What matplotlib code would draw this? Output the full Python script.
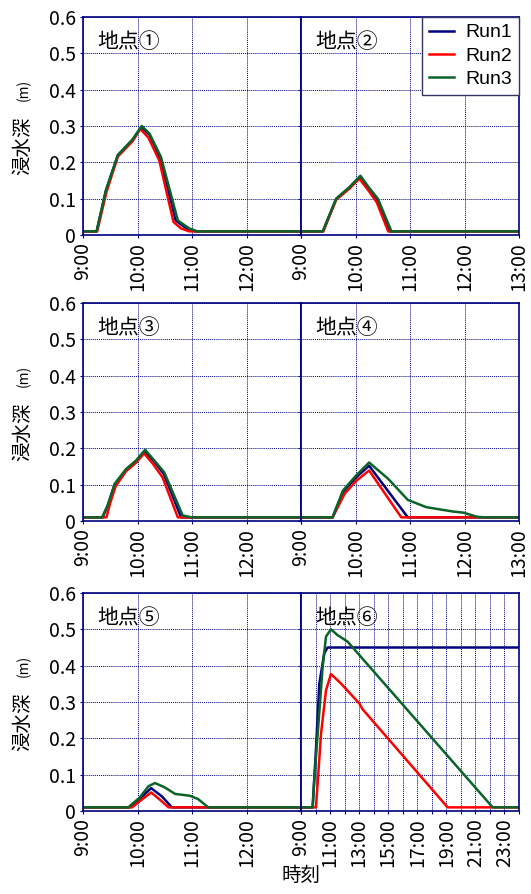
import matplotlib
matplotlib.use("Agg")
import matplotlib.pyplot as plt

plt.rcParams['font.family'] = ['Noto Sans CJK JP', 'DejaVu Sans']

NAVY = '#000080'
RED = '#ff0000'
GREEN = '#0a6428'

runs = ['Run1', 'Run2', 'Run3']
run_colors = [NAVY, RED, GREEN]
sites = ['地点①', '地点②', '地点③', '地点④', '地点⑤', '地点⑥']
depth_ticks = [0, 0.1, 0.2, 0.3, 0.4, 0.5, 0.6]
depth_labels = ['0', '0.1', '0.2', '0.3', '0.4', '0.5', '0.6']

# time in hours, depth in m
# site 1
p1_t_run1 = [9.0, 9.25, 9.42, 9.64, 9.91, 10.07, 10.22, 10.42, 10.70, 10.92, 11.05, 13.0]
p1_d_run1 = [0.01, 0.01, 0.122, 0.22, 0.262, 0.297, 0.276, 0.21, 0.04, 0.016, 0.01, 0.01]
p1_t_run2 = [9.0, 9.26, 9.43, 9.64, 9.91, 10.05, 10.20, 10.40, 10.66, 10.80, 10.95, 13.0]
p1_d_run2 = [0.01, 0.01, 0.118, 0.216, 0.258, 0.292, 0.268, 0.205, 0.036, 0.018, 0.01, 0.01]
p1_t_run3 = [9.0, 9.25, 9.42, 9.64, 9.91, 10.08, 10.22, 10.43, 10.74, 10.95, 11.10, 13.0]
p1_d_run3 = [0.01, 0.01, 0.123, 0.22, 0.263, 0.30, 0.279, 0.215, 0.04, 0.018, 0.01, 0.01]
# site 2
p2_t_run1 = [9.0, 9.40, 9.645, 9.89, 10.08, 10.25, 10.40, 10.63, 13.0]
p2_d_run1 = [0.01, 0.01, 0.099, 0.13, 0.16, 0.126, 0.097, 0.01, 0.01]
p2_t_run2 = [9.0, 9.41, 9.645, 9.89, 10.07, 10.25, 10.39, 10.60, 13.0]
p2_d_run2 = [0.01, 0.01, 0.097, 0.128, 0.155, 0.12, 0.09, 0.01, 0.01]
p2_t_run3 = [9.0, 9.40, 9.645, 9.89, 10.09, 10.26, 10.41, 10.66, 13.0]
p2_d_run3 = [0.01, 0.01, 0.10, 0.132, 0.163, 0.128, 0.10, 0.01, 0.01]
# site 3
p3_t_run1 = [9.0, 9.36, 9.46, 9.58, 9.79, 9.97, 10.13, 10.30, 10.48, 10.80, 13.0]
p3_d_run1 = [0.01, 0.01, 0.045, 0.10, 0.141, 0.164, 0.192, 0.165, 0.13, 0.01, 0.01]
p3_t_run2 = [9.0, 9.43, 9.50, 9.60, 9.79, 9.97, 10.12, 10.28, 10.46, 10.74, 13.0]
p3_d_run2 = [0.01, 0.01, 0.05, 0.096, 0.137, 0.16, 0.186, 0.158, 0.12, 0.01, 0.01]
p3_t_run3 = [9.0, 9.35, 9.45, 9.58, 9.79, 9.97, 10.14, 10.30, 10.49, 10.83, 11.0, 13.0]
p3_d_run3 = [0.01, 0.01, 0.042, 0.102, 0.143, 0.166, 0.196, 0.168, 0.134, 0.015, 0.01, 0.01]
# site 4
p4_t_run1 = [9.0, 9.58, 9.77, 10.01, 10.25, 10.96, 13.0]
p4_d_run1 = [0.01, 0.01, 0.08, 0.12, 0.152, 0.01, 0.01]
p4_t_run2 = [9.0, 9.58, 9.80, 10.01, 10.25, 10.84, 13.0]
p4_d_run2 = [0.01, 0.01, 0.075, 0.11, 0.139, 0.01, 0.01]
p4_t_run3 = [9.0, 9.58, 9.77, 10.01, 10.25, 10.60, 10.96, 11.30, 11.79, 11.98, 12.22, 12.35, 13.0]
p4_d_run3 = [0.01, 0.01, 0.084, 0.125, 0.161, 0.116, 0.058, 0.038, 0.026, 0.023, 0.012, 0.01, 0.01]
# site 5
p5_t_run1 = [9.0, 9.85, 10.05, 10.25, 10.45, 10.63, 13.0]
p5_d_run1 = [0.01, 0.01, 0.035, 0.063, 0.04, 0.01, 0.01]
p5_t_run2 = [9.0, 9.90, 10.05, 10.25, 10.42, 10.57, 13.0]
p5_d_run2 = [0.01, 0.01, 0.028, 0.051, 0.03, 0.01, 0.01]
p5_t_run3 = [9.0, 9.83, 10.04, 10.20, 10.32, 10.50, 10.69, 10.96, 11.11, 11.30, 13.0]
p5_d_run3 = [0.01, 0.01, 0.037, 0.068, 0.077, 0.065, 0.047, 0.042, 0.033, 0.01, 0.01]
# site 6 (longer run, 9:00 - 24:00)
p6_t_run1 = [9.0, 9.80, 10.03, 10.26, 10.60, 10.83, 24.0]
p6_d_run1 = [0.01, 0.01, 0.17, 0.35, 0.434, 0.45, 0.45]
p6_t_run2 = [9.0, 10.03, 10.38, 10.72, 11.06, 11.75, 13.01, 13.24, 19.09, 24.0]
p6_d_run2 = [0.01, 0.01, 0.213, 0.332, 0.377, 0.351, 0.296, 0.28, 0.01, 0.01]
p6_t_run3 = [9.0, 9.80, 9.92, 10.15, 10.49, 10.72, 11.06, 11.52, 11.87, 12.21, 22.19, 24.0]
p6_d_run3 = [0.01, 0.01, 0.09, 0.213, 0.397, 0.48, 0.50, 0.484, 0.475, 0.466, 0.01, 0.01]

panel_t = [[p1_t_run1, p1_t_run2, p1_t_run3], [p2_t_run1, p2_t_run2, p2_t_run3],
           [p3_t_run1, p3_t_run2, p3_t_run3], [p4_t_run1, p4_t_run2, p4_t_run3],
           [p5_t_run1, p5_t_run2, p5_t_run3], [p6_t_run1, p6_t_run2, p6_t_run3]]
panel_d = [[p1_d_run1, p1_d_run2, p1_d_run3], [p2_d_run1, p2_d_run2, p2_d_run3],
           [p3_d_run1, p3_d_run2, p3_d_run3], [p4_d_run1, p4_d_run2, p4_d_run3],
           [p5_d_run1, p5_d_run2, p5_d_run3], [p6_d_run1, p6_d_run2, p6_d_run3]]

fig = plt.figure(figsize=(5.31, 8.94), dpi=100)

W = 218 / 531
H = 218 / 894
lefts = [83 / 531, 301 / 531]
bottoms = [1 - 235 / 894, 1 - 521 / 894, 1 - 811 / 894]

for i in range(6):
    row, col = divmod(i, 2)
    ax = fig.add_axes([lefts[col], bottoms[row], W, H])

    for t, d, c, name in zip(panel_t[i], panel_d[i], run_colors, runs):
        ax.plot(t, d, color=c, lw=1.8, label=name)

    if i == 5:
        hours = list(range(9, 25))
        hour_labels = [f'{h}:00' if h % 2 == 1 else '' for h in hours]
    else:
        hours = list(range(9, 14))
        if col == 0:
            hour_labels = [f'{h}:00' for h in hours[:-1]] + ['']
        else:
            hour_labels = [f'{h}:00' for h in hours]
    ax.set_xlim(hours[0], hours[-1])
    ax.set_xticks(hours)
    ax.set_xticklabels(hour_labels, rotation=90)

    ax.set_ylim(0, 0.6)
    ax.set_yticks(depth_ticks)
    if col == 0:
        ax.set_yticklabels(depth_labels)
        ax.text(-0.275, 0.41, '浸水深', rotation=90, ha='center', va='center',
                fontsize=14, transform=ax.transAxes)
        ax.text(-0.27, 0.665, '(m)', rotation=90, ha='center', va='center',
                fontsize=10, transform=ax.transAxes)
    else:
        ax.set_yticklabels([])

    ax.set_axisbelow(True)
    ax.grid(True, color=NAVY, linestyle=(0, (1, 1)), linewidth=0.7)
    for sp in ax.spines.values():
        sp.set_color(NAVY)
        sp.set_linewidth(1.2)
    ax.tick_params(direction='out', length=2, color=NAVY, labelsize=14, pad=3)

    ax.text(0.064, 0.885, sites[i], fontsize=15, ha='left', va='center',
            transform=ax.transAxes)

    if i == 1:
        ax.legend(loc='upper right', borderaxespad=0, fancybox=False,
                  edgecolor='#333366', framealpha=1,
                  prop={'family': 'Liberation Sans', 'size': 14},
                  handlelength=1.3, labelspacing=0.3, borderpad=0.35,
                  handletextpad=0.6)

fig.text(301 / 531, 1 - 875 / 894, '時刻', ha='center', va='center', fontsize=14)

fig.savefig('out.png', dpi=100)
